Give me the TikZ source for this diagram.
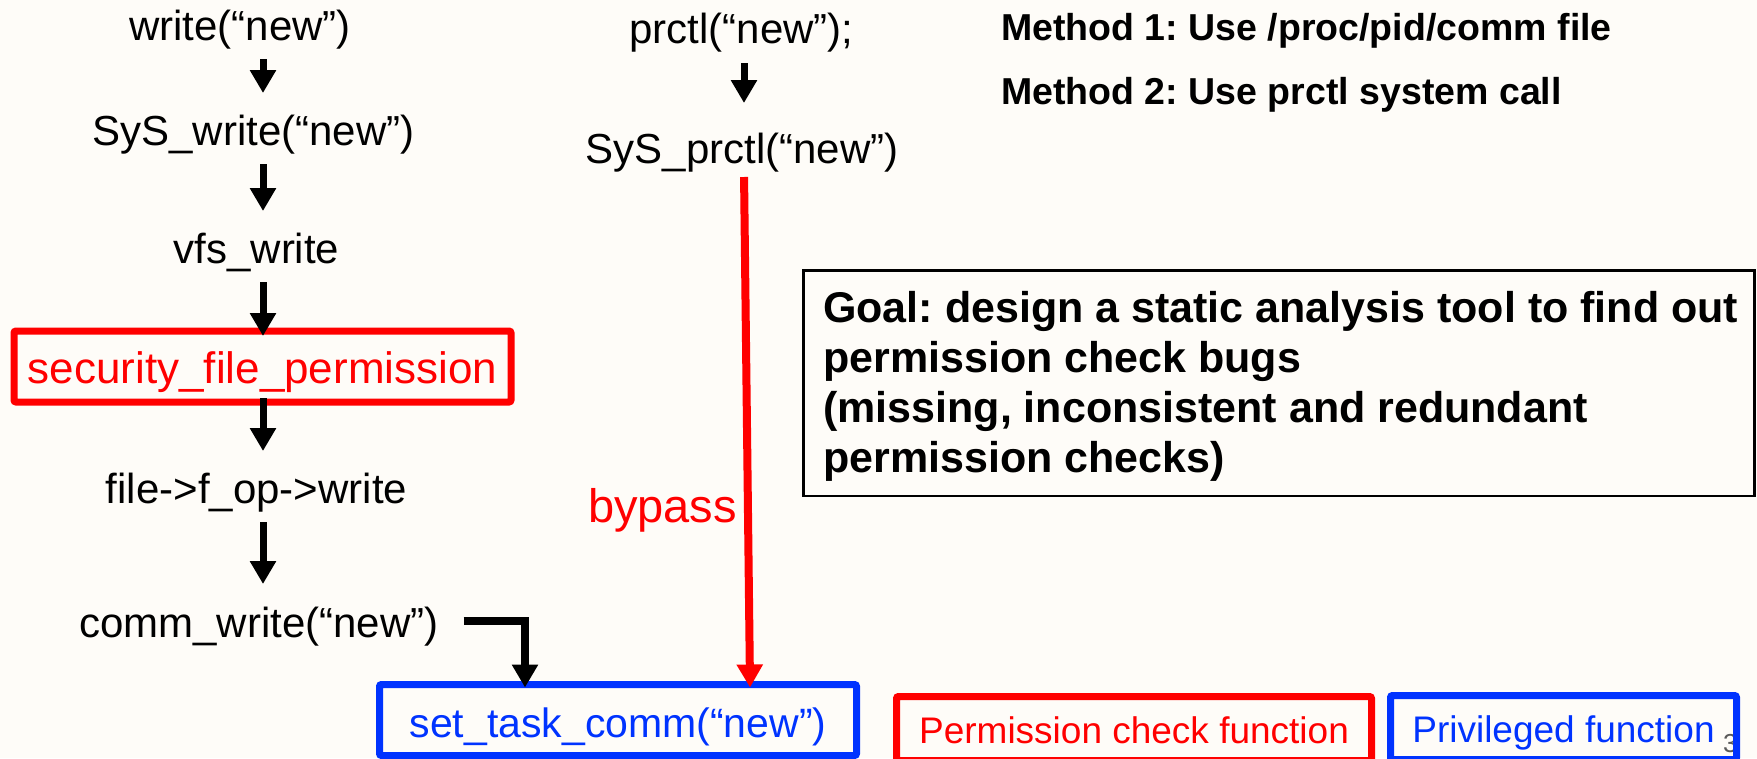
\documentclass[tikz,border=0pt]{standalone}
\usepackage{fontspec}
\setmainfont{Liberation Sans}
\usetikzlibrary{arrows.meta,calc}
\definecolor{paper}{RGB}{254,252,248}
\definecolor{pred}{RGB}{255,0,0}
\definecolor{pblue}{RGB}{0,51,255}
\definecolor{pgrey}{RGB}{90,90,90}
\frenchspacing

\begin{document}
\begin{tikzpicture}[x=1pt,y=-1pt,
  call/.style={inner sep=0pt, outer sep=0pt, anchor=base,
    font=\fontsize{42}{50}\selectfont, text height=31pt, text depth=9pt},
  flow/.style={line width=7pt, -{Triangle[width=25pt,length=23pt]}},
  permbox/.style={draw=pred, text=pred, line width=7pt, rounded corners=2pt,
    inner sep=0pt, outer sep=0pt, text depth=0pt},
  privbox/.style={draw=pblue, text=pblue, line width=7pt, rounded corners=2pt,
    inner sep=0pt, outer sep=0pt, text depth=0pt},
  note/.style={inner sep=0pt, anchor=base west,
    font=\fontsize{37.5}{44}\selectfont\bfseries}]

% page
\fill[paper] (0,0) rectangle (1757,758);
\useasboundingbox (0,0) rectangle (1757,758);

% method 1: /proc/pid/comm write path
\node[call] (w)     at (240,40)    {write(“new”)};
\node[call] (sysw)  at (253.5,145) {SyS\_write(“new”)};
\node[call] (vfs)   at (256.5,263) {vfs\_write};
\node[permbox, minimum width=497pt, minimum height=71pt, text height=33pt,
      font=\fontsize{44}{50}\selectfont] (sec) at (262.5,366.5) {security\_file\_permission};
\node[call] (fop)   at (256.5,503) {file->f\_op->write};
\node[call] (cw)    at (259,637)   {comm\_write(“new”)};

% method 2: prctl path
\node[call] (pr)    at (741.5,43)  {prctl(“new”);};
\node[call] (syspr) at (742,163)   {SyS\_prctl(“new”)};

% privileged target
\node[privbox, minimum width=477pt, minimum height=71pt, text height=34pt,
      font=\fontsize{41}{50}\selectfont] (stc) at (618,720) {set\_task\_comm(“new”)};

% arrows of the write path
\coordinate (spine) at (263,0);
\draw[flow, shorten <=10pt, shorten >=21pt] (spine |- w.south)    -- (spine |- sysw.north);
\draw[flow, shorten <=10pt, shorten >=21pt] (spine |- sysw.south) -- (spine |- vfs.north);
\draw[flow, shorten <=10pt, shorten >=-5pt] (spine |- vfs.south)  -- (spine |- sec.north);
\draw[flow, shorten <=-4pt, shorten >=21pt] (spine |- sec.south)  -- (spine |- fop.north);
\draw[flow, shorten <=10pt, shorten >=22pt] (spine |- fop.south)  -- (spine |- cw.north);

% comm_write -> set_task_comm
\coordinate (bend) at (525,621);
\draw[flow, line width=8pt, line join=miter, shorten <=25pt, shorten >=-3pt]
  (cw.east |- bend) -- (bend) -- (bend |- stc.north);

% prctl arrows
\coordinate (spine2) at (744,0);
\draw[flow, shorten <=11pt, shorten >=29pt] (spine2 |- pr.south) -- (spine2 |- syspr.north);
\draw[flow, draw=pred, fill=pred, line width=8pt, shorten <=5pt, shorten >=-3pt]
  ([xshift=2pt]syspr.south) -- ([xshift=132pt]stc.north);
\node[inner sep=0pt, anchor=base, text=pred, font=\fontsize{47}{50}\selectfont]
  (byp) at (662.5,522) {bypass};

% method headings
\node[note] (m1) at (1001,40)  {Method 1: Use /proc/pid/comm file};
\node[note] (m2) at (1001,104) {Method 2: Use prctl system call};

% goal box
\node[draw, line width=2.5pt, inner sep=0pt, outer sep=0pt, anchor=north west,
      minimum width=951pt, minimum height=225.5pt] (goal) at (803.25,270.25) {};
\node[inner sep=0pt, anchor=base west, font=\fontsize{43}{50}\selectfont\bfseries]
  (goaltext) at (823,322)
  {\vtop{\baselineskip=50pt
    \hbox{Goal: design a static analysis tool to find out}
    \hbox{permission check bugs}
    \hbox{(missing, inconsistent and redundant}
    \hbox{permission checks)}}};

% legend
\node[inner sep=0pt, anchor=base west, text=pgrey, font=\fontsize{26}{30}\selectfont]
  (pg) at (1723,752) {3};
\node[permbox, minimum width=475pt, minimum height=64pt, text height=29pt,
      font=\fontsize{37}{44}\selectfont] (lgperm) at (1134,728.5) {Permission check function};
\node[privbox, minimum width=346pt, minimum height=64pt, text height=29pt,
      font=\fontsize{37}{44}\selectfont] (lgpriv) at (1563.5,727.5) {Privileged function};
\end{tikzpicture}
\end{document}
